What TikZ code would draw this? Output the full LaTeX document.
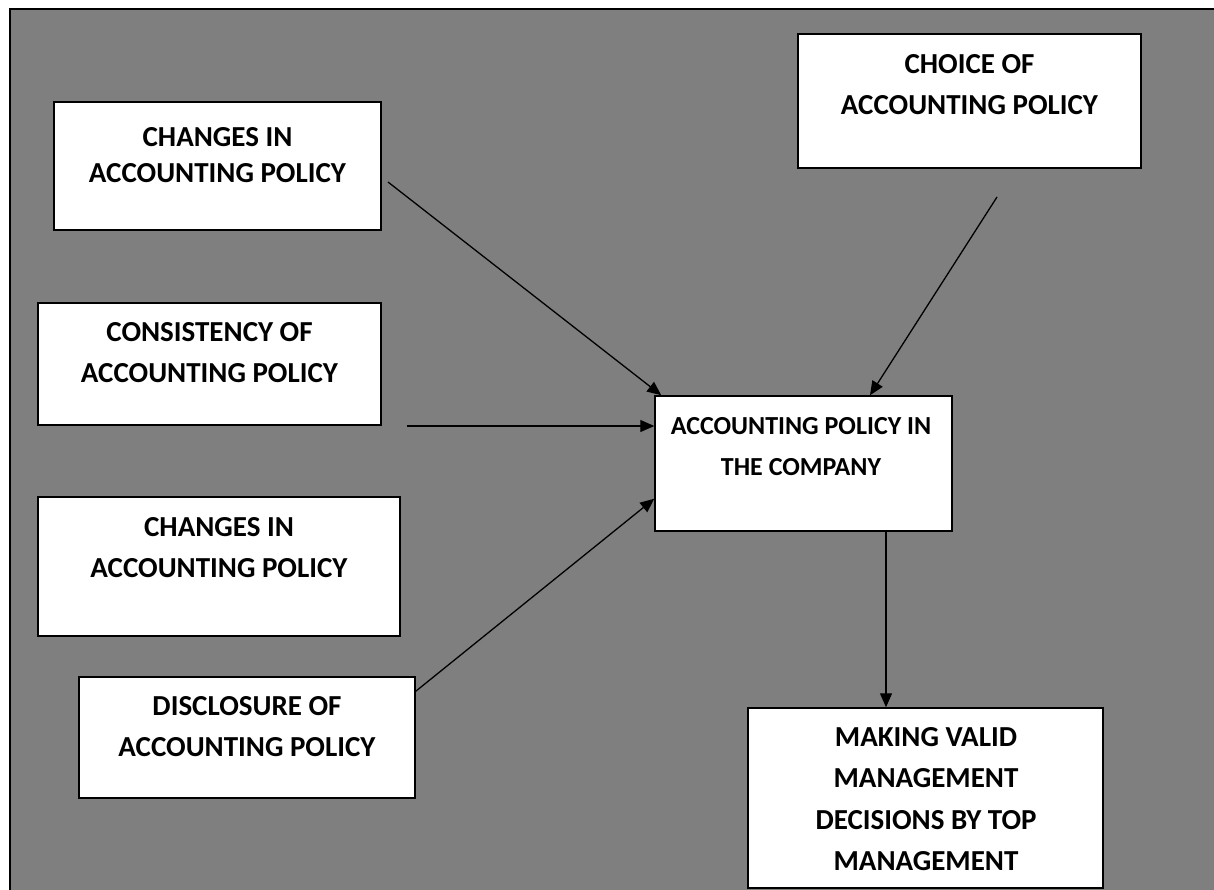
\documentclass[tikz,border=0pt]{standalone}
\usepackage{fontspec}
\setmainfont{Carlito}
\usetikzlibrary{arrows.meta}
\definecolor{bggray}{HTML}{7F7F7F}
\begin{document}
\begin{tikzpicture}[x=1pt,y=-1pt,
  wbox/.style={draw=black, line width=1.5pt, fill=white, rectangle, inner sep=0pt},
  txt/.style={align=center, inner sep=0pt, font=\bfseries\fontsize{29}{41}\selectfont},
  arr/.style={draw=black, line width=1.3pt, -{Triangle[length=14pt,width=12pt]}}]
\useasboundingbox (0,0) rectangle (1214,890);
\fill[white] (0,0) rectangle (1214,890);
\fill[bggray] (10,9) rectangle (1214,890);
\draw[line width=1.6pt] (10,890) -- (10,9) -- (1214,9);

% boxes
\node[wbox, minimum width=327pt, minimum height=128pt] (b1) at (217.5,166) {};
\node[wbox, minimum width=343pt, minimum height=134pt] (ch) at (969.5,101) {};
\node[wbox, minimum width=343pt, minimum height=122pt] (cs) at (209.5,364) {};
\node[wbox, minimum width=362pt, minimum height=139pt] (b2) at (219,566.5) {};
\node[wbox, minimum width=336pt, minimum height=121pt] (ds) at (247,737.5) {};
\node[wbox, minimum width=297pt, minimum height=135pt] (c) at (803.5,463.5) {};
\node[wbox, minimum width=355pt, minimum height=180pt] (m) at (925.5,798) {};

% texts
\node[txt, font=\bfseries\fontsize{29}{36}\selectfont] (t1) at (217.5,155) {CHANGES IN\\ACCOUNTING POLICY};
\node[txt] (tch) at (969.5,84.5) {CHOICE OF\\ACCOUNTING POLICY};
\node[txt] (tcs) at (209.5,353) {CONSISTENCY OF\\ACCOUNTING POLICY};
\node[txt] (t2) at (219,547.5) {CHANGES IN\\ACCOUNTING POLICY};
\node[txt] (tds) at (247,726.5) {DISCLOSURE OF\\ACCOUNTING POLICY};
\node[txt, font=\bfseries\fontsize{26}{41}\selectfont] (tc) at (801,446.5) {ACCOUNTING POLICY IN\\THE COMPANY};
\node[txt, font=\bfseries\fontsize{29}{41.3}\selectfont] (tm) at (926,799) {MAKING VALID\\MANAGEMENT\\DECISIONS BY TOP\\MANAGEMENT};

% connector free ends
\coordinate (s1) at (388,182);
\coordinate (s2) at (997,197);
\coordinate (s3) at (407,426);
\coordinate (dx) at (886,0);

\draw[arr] (s1) -- ([xshift=7pt]c.north west);
\draw[arr] (s2) -- ([xshift=66.5pt]c.north);
\draw[arr] (s3) -- (c.west |- s3);
\draw[arr] ([yshift=-15pt]ds.north east) -- ([yshift=33pt]c.south west);
\draw[arr] (c.south -| dx) -- (m.north -| dx);
\end{tikzpicture}
\end{document}
